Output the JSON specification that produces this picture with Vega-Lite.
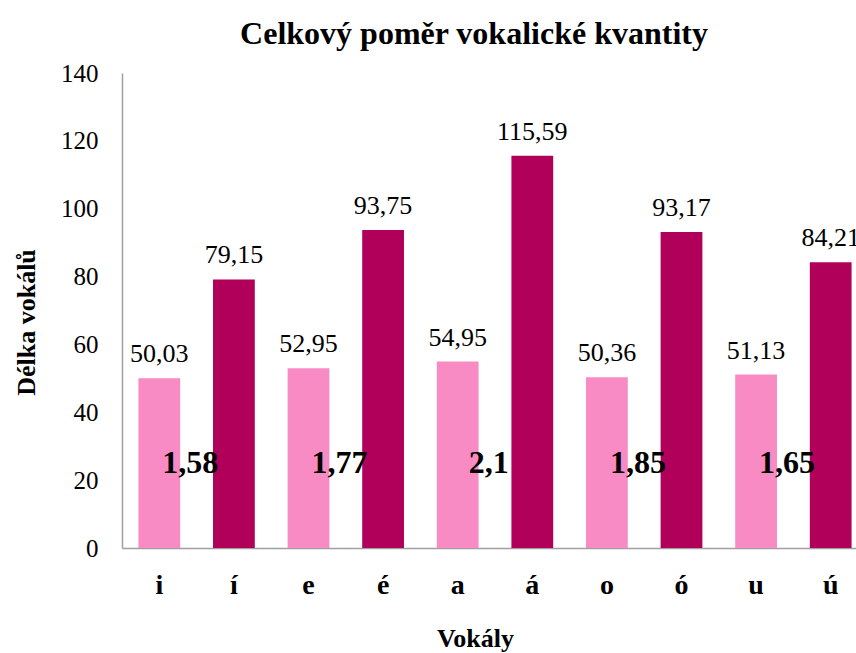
{
  "$schema": "https://vega.github.io/schema/vega-lite/v6.json",
  "autosize": {"type": "none"},
  "padding": {"left": 122, "top": 73, "right": 0, "bottom": 105},
  "width": 746,
  "height": 475,
  "background": "white",
  "title": {
    "text": "Celkový poměr vokalické kvantity",
    "font": "Liberation Serif",
    "fontSize": 32,
    "fontWeight": "bold",
    "color": "black",
    "anchor": "middle",
    "frame": "group",
    "baseline": "bottom",
    "dx": -21,
    "offset": -22
  },
  "config": {
    "view": {"stroke": null},
    "font": "Liberation Serif",
    "locale": {
      "number": {"decimal": ",", "thousands": " ", "grouping": [3], "currency": ["", " Kč"]}
    }
  },
  "datasets": {
    "delky": [
      {"vokal": "i", "typ": "krátký", "delka": 50.03},
      {"vokal": "í", "typ": "dlouhý", "delka": 79.15},
      {"vokal": "e", "typ": "krátký", "delka": 52.95},
      {"vokal": "é", "typ": "dlouhý", "delka": 93.75},
      {"vokal": "a", "typ": "krátký", "delka": 54.95},
      {"vokal": "á", "typ": "dlouhý", "delka": 115.59},
      {"vokal": "o", "typ": "krátký", "delka": 50.36},
      {"vokal": "ó", "typ": "dlouhý", "delka": 93.17},
      {"vokal": "u", "typ": "krátký", "delka": 51.13},
      {"vokal": "ú", "typ": "dlouhý", "delka": 84.21}
    ],
    "pomery": [
      {"vokal": "i", "pomer": 1.58},
      {"vokal": "e", "pomer": 1.77},
      {"vokal": "a", "pomer": 2.1},
      {"vokal": "o", "pomer": 1.85},
      {"vokal": "u", "pomer": 1.65}
    ]
  },
  "encoding": {
    "x": {
      "field": "vokal",
      "type": "nominal",
      "sort": null,
      "scale": {
        "domain": ["i", "í", "e", "é", "a", "á", "o", "ó", "u", "ú"],
        "paddingInner": 0.44,
        "paddingOuter": 0.22
      },
      "axis": {
        "title": "Vokály",
        "titleFont": "Liberation Serif",
        "titleFontSize": 26,
        "titleFontWeight": "bold",
        "titleColor": "black",
        "titleX": 353,
        "titleY": 98,
        "titleBaseline": "alphabetic",
        "labelFont": "Liberation Serif",
        "labelFontSize": 28,
        "labelFontWeight": "bold",
        "labelColor": "black",
        "labelAngle": 0,
        "labelPadding": 23,
        "ticks": false,
        "grid": false,
        "domainColor": "#A0A0A0",
        "domainWidth": 1.5
      }
    }
  },
  "layer": [
    {
      "data": {"name": "delky"},
      "mark": {"type": "bar"},
      "encoding": {
        "y": {
          "field": "delka",
          "type": "quantitative",
          "scale": {"domain": [0, 140], "nice": false},
          "axis": {
            "title": "Délka vokálů",
            "titleFont": "Liberation Serif",
            "titleFontSize": 26,
            "titleFontWeight": "bold",
            "titleColor": "black",
            "titleAngle": -90,
            "titleX": -88,
            "titleY": 249,
            "titleAlign": "center",
            "titleBaseline": "alphabetic",
            "values": [0, 20, 40, 60, 80, 100, 120, 140],
            "format": "d",
            "labelFont": "Liberation Serif",
            "labelFontSize": 25,
            "labelColor": "black",
            "labelPadding": 24,
            "ticks": false,
            "grid": false,
            "domainColor": "#A0A0A0",
            "domainWidth": 1.5
          }
        },
        "color": {
          "field": "typ",
          "type": "nominal",
          "scale": {"domain": ["krátký", "dlouhý"], "range": ["#F98BC4", "#B0005A"]},
          "legend": null
        }
      }
    },
    {
      "data": {"name": "delky"},
      "mark": {
        "type": "text",
        "font": "Liberation Serif",
        "fontSize": 26,
        "color": "black",
        "baseline": "alphabetic",
        "dy": -16
      },
      "encoding": {
        "y": {"field": "delka", "type": "quantitative"},
        "text": {"field": "delka", "type": "quantitative", "format": ".2f"}
      }
    },
    {
      "data": {"name": "pomery"},
      "mark": {
        "type": "text",
        "font": "Liberation Serif",
        "fontSize": 32,
        "fontWeight": "bold",
        "color": "black",
        "baseline": "alphabetic",
        "dx": 31,
        "dy": 10
      },
      "encoding": {
        "y": {"datum": 25, "type": "quantitative"},
        "text": {"field": "pomer", "type": "quantitative", "format": ".2~f"}
      }
    }
  ]
}
